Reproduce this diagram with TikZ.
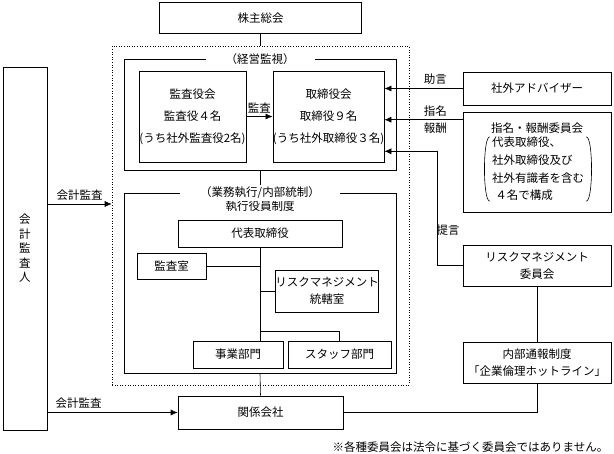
\documentclass[tikz,border=0pt]{standalone}
\usepackage{fontspec}
\setmainfont{Noto Sans CJK JP}
\usetikzlibrary{arrows.meta}

\begin{document}
\begin{tikzpicture}[x=1pt, y=-1pt, font=\fontsize{11.5}{17}\selectfont, line width=0.6pt]
%Declaration of styles
	\tikzstyle{box} = [rectangle, draw=black, align=center, inner sep=0pt] %style for the boxes
	\tikzstyle{frame} = [rectangle, draw=black, inner sep=0pt] %style for the big frames
	\tikzstyle{caption} = [fill=white, inner xsep=20pt, inner ysep=2pt] %style for the frame titles
	\tikzstyle{arr} = [-{Latex[length=7pt, width=6pt]}] %style for the arrows
	\useasboundingbox (0,0) rectangle (614,454);
%Frames
	\node [frame, dotted, minimum width=297pt, minimum height=339pt] (ctrl) at (260.5,215.5) {};
	\node [frame, minimum width=272pt, minimum height=111pt] (keiei) at (260,114.5) {};
	\node [frame, minimum width=272pt, minimum height=180pt] (gyomu) at (260,283) {};
%Nodes, the elements of the graphic
	\node [box, minimum width=202pt, minimum height=31pt] (kabu) at (260.5,18) {株主総会};
	\node [box, minimum width=107pt, minimum height=91pt] (kansayaku) at (192.5,116.5) {監査役会\\[5pt]監査役４名\\[5pt](うち社外監査役2名)};
	\node [box, minimum width=107pt, minimum height=91pt] (torishimari) at (328.5,116.5) {取締役会\\[5pt]取締役９名\\[5pt](うち社外取締役３名)};
	\node [box, minimum width=148pt, minimum height=33pt] (adviser) at (537,88.5) {社外アドバイザー};
	\node [box, minimum width=148pt, minimum height=100pt] (shimei) at (537,162) {};
	\node (shimeititle) at (537,128) {指名・報酬委員会};
	\node [align=left, inner sep=0pt, font=\fontsize{11.5}{17.7}\selectfont] (shimeilist) at (538,169) {代表取締役、\\社外取締役及び\\社外有識者を含む\\\hspace{0.3em}４名で構成};
	\node [box, minimum width=148pt, minimum height=41pt] (risk) at (537,265.5) {リスクマネジメント\\委員会};
	\node [box, minimum width=148pt, minimum height=41pt] (hotline) at (537,362.5) {内部通報制度\\「企業倫理ホットライン」};
	\node [box, minimum width=165pt, minimum height=33pt] (kankei) at (260.5,412.5) {関係会社};
	\node [box, minimum width=44pt, minimum height=363pt, font=\fontsize{11.5}{14.5}\selectfont] (kaikei) at (25,248.5) {会\\計\\監\\査\\人};
	\node (shikko) at (260,206) {執行役員制度};
	\node [box, minimum width=164pt, minimum height=27pt] (daihyo) at (260,233.5) {代表取締役};
	\node [box, minimum width=69pt, minimum height=26pt] (kansashitsu) at (171.5,266) {監査室};
	\node [box, minimum width=102pt, minimum height=42pt] (riskoffice) at (327,291) {リスクマネジメント\\統轄室};
	\node [box, minimum width=90pt, minimum height=27pt] (jigyo) at (238,354.5) {事業部門};
	\node [box, minimum width=103pt, minimum height=27pt] (staff) at (339.5,354.5) {スタッフ部門};
	\node [anchor=east] (note) at (612,447) {※各種委員会は法令に基づく委員会ではありません。};
%Parentheses round the members
	\draw ([xshift=-2pt]shimeilist.north west) .. controls ([xshift=-9pt]shimeilist.north west) and ([xshift=-9pt]shimeilist.south west) .. ([xshift=-2pt]shimeilist.south west);
	\draw ([xshift=2pt]shimeilist.north east) .. controls ([xshift=9pt]shimeilist.north east) and ([xshift=9pt]shimeilist.south east) .. ([xshift=2pt]shimeilist.south east);
%Connectors
	\draw (kabu.south) -- (ctrl.north);
	\draw (keiei.south) -- (gyomu.north);
	\draw (gyomu.south) -- (kankei.north);
	\draw [arr] (kansayaku.east) -- node [above] (kansalbl) {監査} (torishimari.east -| torishimari.west);
	\draw [arr] (adviser.west) -- node [above, pos=0.35] (jogen) {助言} (adviser.west -| torishimari.east);
	\coordinate (s1) at ([yshift=-8pt]shimei.north west);
	\draw [arr] (s1) -- node [above, pos=0.35] (shimeilbl) {指名} node [below, pos=0.35] (hoshu) {報酬} (s1 -| torishimari.east);
	\coordinate (t1) at ([yshift=11pt]torishimari.south east);
	\draw [arr] (risk.west) -| ([xshift=53pt]t1) -- (t1);
	\node (teigen) at (448,230) {提言};
	\draw (risk.south) -- (hotline.north);
	\draw (hotline.south) |- (kankei.east);
	\coordinate (ka1) at ([yshift=44.5pt]kaikei.east);
	\draw [arr] (ka1) -- node [above] (kalbl1) {会計監査} (ka1 -| ctrl.west);
	\draw [arr] (kankei.west -| kaikei.east) -- node [above, pos=0.24] (kalbl2) {会計監査} (kankei.west);
	\draw (daihyo.south) -- (daihyo.south |- jigyo.north);
	\draw (kansashitsu.east) -- (kansashitsu.east -| daihyo.south);
	\draw (riskoffice.west) -- (riskoffice.west -| daihyo.south);
	\coordinate (br) at ([yshift=9pt]jigyo.north -| daihyo.south);
	\draw (br) -| (staff.north);
%Frame titles
	\node [caption] (keieilbl) at (keiei.north) {（経営監視）};
	\node [caption] (gyomulbl) at (gyomu.north) {（業務執行/内部統制）};
\end{tikzpicture}
\end{document}
